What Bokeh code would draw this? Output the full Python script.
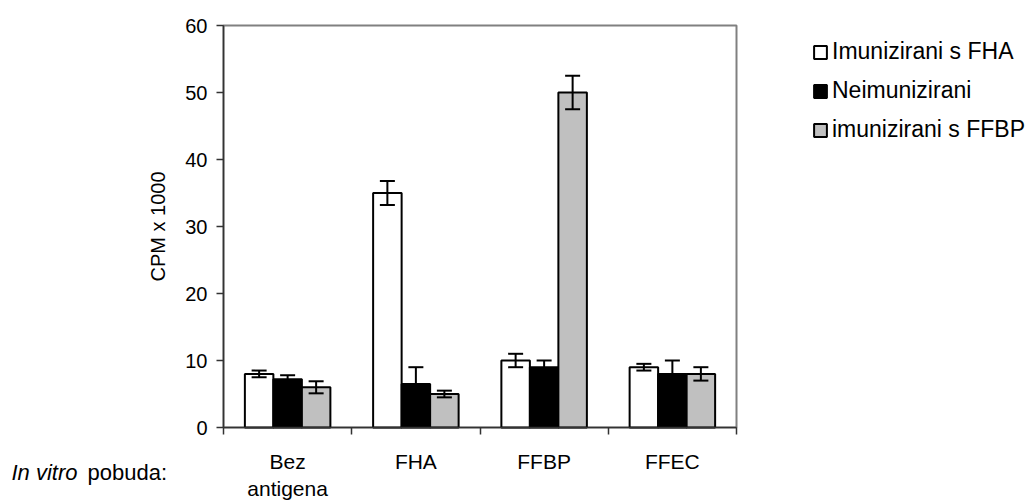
from bokeh.plotting import figure
from bokeh.models import (ColumnDataSource, Whisker, FixedTicker, Legend, LegendItem,
                          Label, Range1d, TeeHead)
from bokeh.embed import file_html
from bokeh.resources import INLINE

# ---- data ----
categories = ["Bez\nantigena", "FHA", "FFBP", "FFEC"]
series = ["Imunizirani s FHA", "Neimunizirani", "imunizirani s FFBP"]
imun_fha = [8.0, 35.0, 10.0, 9.0]
imun_fha_err = [0.5, 1.8, 1.0, 0.5]
neimun = [7.2, 6.5, 9.0, 8.0]
neimun_err = [0.6, 2.5, 1.0, 2.0]
imun_ffbp = [6.0, 5.0, 50.0, 8.0]
imun_ffbp_err = [0.9, 0.5, 2.5, 1.0]
y_ticks = [0, 10, 20, 30, 40, 50, 60]

values = [imun_fha, neimun, imun_ffbp]
errors = [imun_fha_err, neimun_err, imun_ffbp_err]
fills = ["white", "black", "#C0C0C0"]

FONT = "Liberation Sans"

# ---- layout (pixels of the canvas) ----
W, H = 1029, 501
PL, PR, PT, PB = 223, 736, 25, 427      # plot-area box on the canvas
n = len(categories)
ymax_v = y_ticks[-1]
sx = (PR - PL) / n
sy = (PB - PT) / ymax_v
x_range = Range1d(-PL / sx, n + (W - PR) / sx)
y_range = Range1d(-(H - PB) / sy, ymax_v + PT / sy)

p = figure(width=W, height=H, output_backend="svg", toolbar_location=None,
           x_range=x_range, y_range=y_range,
           min_border_left=0, min_border_right=0, min_border_top=0, min_border_bottom=0)
p.xgrid.visible = False
p.ygrid.visible = False
p.outline_line_color = None
p.background_fill_color = "white"

# plot-area border
p.quad(left=[0], right=[n], bottom=[0], top=[ymax_v], fill_color=None,
       line_color="#808080", line_width=2)

w = 1.0 / 4.5
renderers = []
for k, (vals, errs, fc) in enumerate(zip(values, errors, fills)):
    xs = [i + 0.5 + (k - 1) * w for i in range(n)]
    src = ColumnDataSource(dict(
        x=xs, top=vals,
        upper=[v + e for v, e in zip(vals, errs)],
        lower=[v - e for v, e in zip(vals, errs)]))
    r = p.vbar(x="x", top="top", bottom=0, width=w, source=src,
               fill_color=fc, line_color="black", line_width=2)
    renderers.append(r)
    wh = Whisker(base="x", upper="upper", lower="lower", source=src,
                 line_color="black", line_width=2,
                 upper_head=TeeHead(size=15, line_color="black", line_width=2),
                 lower_head=TeeHead(size=15, line_color="black", line_width=2))
    wh.level = "overlay"
    p.add_layout(wh)

# x axis: labels at centres, ticks at boundaries
xa = p.xaxis[0]
xa.fixed_location = 0
xa.bounds = (0, n)
xa.ticker = FixedTicker(ticks=[i + 0.5 for i in range(n)],
                        minor_ticks=list(range(n + 1)))
xa.major_label_overrides = {i + 0.5: c for i, c in enumerate(categories)}
xa.major_tick_line_color = None
xa.minor_tick_line_color = "#333333"
xa.minor_tick_line_width = 1.5
xa.minor_tick_out = 7
xa.minor_tick_in = 0
xa.axis_line_color = "#333333"
xa.axis_line_width = 1.5
xa.major_label_text_font = FONT
xa.major_label_text_font_size = "21px"
xa.major_label_text_color = "black"
xa.major_label_standoff = 15

ya = p.yaxis[0]
ya.fixed_location = 0
ya.bounds = (0, ymax_v)
ya.ticker = FixedTicker(ticks=y_ticks)
ya.minor_tick_line_color = None
ya.major_tick_out = 7
ya.major_tick_in = 0
ya.major_tick_line_color = "#333333"
ya.major_tick_line_width = 1.5
ya.axis_line_color = "#333333"
ya.axis_line_width = 1.5
ya.major_label_text_font = FONT
ya.major_label_text_font_size = "20px"
ya.major_label_text_color = "black"
ya.major_label_standoff = 9
ya.axis_label = "CPM x 1000"
ya.axis_label_text_font = FONT
ya.axis_label_text_font_size = "20px"
ya.axis_label_text_font_style = "normal"
ya.axis_label_text_color = "black"
ya.axis_label_standoff = 13

legend = Legend(items=[LegendItem(label=s, renderers=[r]) for s, r in zip(series, renderers)],
                location=(812, 358), glyph_width=16, glyph_height=16,
                label_text_font=FONT, label_text_font_size="23px", label_text_color="black",
                label_standoff=4, spacing=12, padding=0, margin=0,
                border_line_color=None, background_fill_alpha=0)
p.add_layout(legend)

p.add_layout(Label(x=11, y=H - 472, x_units="screen", y_units="screen", text="In vitro",
                   text_font=FONT, text_font_size="22px", text_font_style="italic",
                   text_color="black", text_align="left", text_baseline="alphabetic"))
p.add_layout(Label(x=87, y=H - 472, x_units="screen", y_units="screen", text="pobuda:",
                   text_font=FONT, text_font_size="22px",
                   text_color="black", text_align="left", text_baseline="alphabetic"))

open("out.html", "w").write(file_html(p, INLINE))
